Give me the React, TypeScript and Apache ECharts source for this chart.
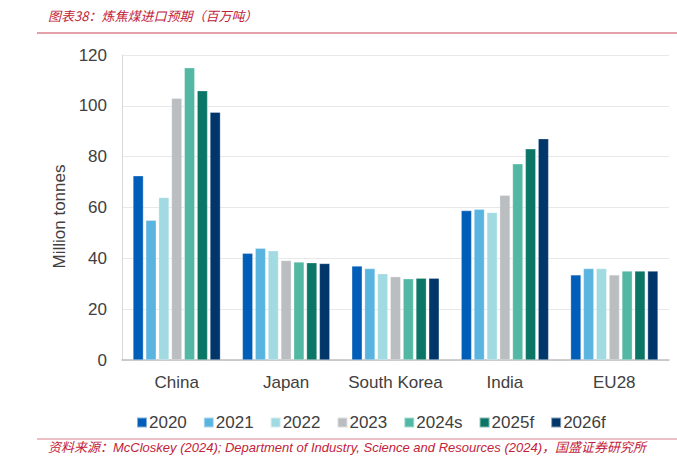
import React, { useEffect, useRef } from "react";
import * as echarts from "echarts";

const categories = ["China", "Japan", "South Korea", "India", "EU28"];
const seriesNames = ["2020", "2021", "2022", "2023", "2024s", "2025f", "2026f"];
const colors = ["#005EB8", "#5AB4E0", "#A2DAE2", "#BBBEC1", "#52B8A3", "#0B7566", "#00366A"];

const v2020 = [72.5, 42, 37, 58.8, 33.5];
const v2021 = [55, 44, 36, 59.3, 36];
const v2022 = [64, 43, 34, 58.1, 36];
const v2023 = [103, 39.2, 32.8, 64.8, 33.5];
const v2024s = [115, 38.6, 32, 77.2, 35];
const v2025f = [106, 38.3, 32.2, 83.1, 35];
const v2026f = [97.5, 38, 32.2, 87.1, 35];
const allValues = [v2020, v2021, v2022, v2023, v2024s, v2025f, v2026f];

const yTicks = [0, 20, 40, 60, 80, 100, 120];

const titleText = "图表38：炼焦煤进口预期（百万吨）";
const sourceText =
  "资料来源：McCloskey (2024); Department of Industry, Science and Resources (2024)，国盛证券研究所";

export default function App() {
  const ref = useRef<HTMLDivElement>(null);

  useEffect(() => {
    document.body.style.margin = "0";
    const chart = echarts.init(ref.current!, null, { renderer: "svg" });
    const font = "Liberation Sans, Arial, sans-serif";
    const red = "#C2233A";
    chart.setOption({
      animation: false,
      backgroundColor: "#ffffff",
      textStyle: { fontFamily: font },
      grid: { left: 122, right: 8, top: 55, bottom: 103, containLabel: false },
      legend: {
        data: seriesNames,
        left: 131,
        top: 409,
        itemWidth: 10,
        itemHeight: 10,
        itemGap: 16,
        icon: "rect",
        textStyle: { fontSize: 17, color: "#404040", fontFamily: font, padding: [0, 0, 0, -3] },
      },
      xAxis: {
        type: "category",
        data: categories,
        axisLine: { lineStyle: { color: "#BFBFBF", width: 1.5 } },
        axisTick: { show: false },
        axisLabel: { fontSize: 17, color: "#404040", margin: 14, interval: 0 },
      },
      yAxis: {
        type: "value",
        min: yTicks[0],
        max: yTicks[yTicks.length - 1],
        interval: 20,
        name: "Million tonnes",
        nameLocation: "middle",
        nameGap: 50,
        nameRotate: 90,
        nameTextStyle: { fontSize: 17, color: "#404040", padding: [0, 0, 0, -18] },
        axisLine: { show: true, lineStyle: { color: "#D9D9D9" } },
        axisTick: { show: false },
        axisLabel: { fontSize: 17, color: "#404040", margin: 15 },
        splitLine: { lineStyle: { color: "#E8E8E8" } },
      },
      series: seriesNames.map((name, i) => ({
        name,
        type: "bar",
        data: allValues[i],
        barGap: "22%",
        barCategoryGap: "20%",
        itemStyle: { color: colors[i], borderColor: "rgba(255,255,255,0.5)", borderWidth: 0.6 },
      })),
      graphic: [
        {
          type: "text",
          left: 48,
          top: 9,
          style: { text: titleText, fill: red, fontSize: 13, fontStyle: "italic", fontFamily: "Noto Sans CJK SC, sans-serif" },
        },
        {
          type: "line",
          shape: { x1: 37, y1: 33, x2: 677, y2: 33 },
          style: { stroke: "#D9808D", lineWidth: 1.5 },
        },
        {
          type: "line",
          shape: { x1: 37, y1: 439, x2: 677, y2: 439 },
          style: { stroke: "#D9808D", lineWidth: 1 },
        },
        {
          type: "text",
          left: 48,
          top: 441,
          style: { text: sourceText, fill: red, fontSize: 13, fontStyle: "italic", fontFamily: "Liberation Sans, Noto Sans CJK SC, sans-serif" },
        },
      ],
    });
    return () => chart.dispose();
  }, []);

  return <div ref={ref} style={{ width: 677, height: 463 }} />;
}
